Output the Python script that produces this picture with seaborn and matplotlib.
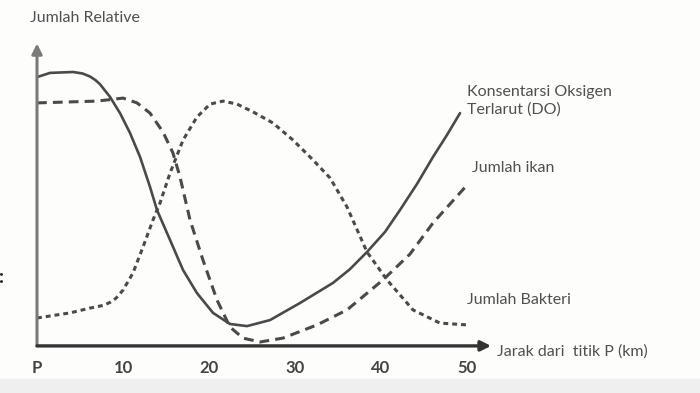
import matplotlib
matplotlib.use("Agg")
import matplotlib.pyplot as plt
import seaborn as sns
import pandas as pd

sns.set_theme(style="white")
plt.rcParams['font.family'] = ['Lato', 'DejaVu Sans']

# --- data (distance from P in km, relative amount) ---
do_km = [0.0, 1.51, 4.19, 5.3, 6.16, 6.8, 7.33, 8.49, 9.65, 10.81, 11.98, 13.14, 13.95,
         15.47, 16.98, 18.60, 20.47, 22.44, 24.42, 27.09, 30.58, 34.42, 36.40, 38.37,
         40.47, 42.21, 44.19, 46.05, 47.67, 49.19]
do_val = [89.3, 90.7, 91.0, 90.5, 89.5, 88.3, 86.9, 82.7, 77.3, 70.7, 62.7, 52.7, 45.0,
          35.0, 25.0, 17.3, 10.7, 7.0, 6.3, 8.3, 14.0, 20.7, 25.3, 31.0,
          37.7, 45.0, 53.7, 62.7, 70.0, 77.3]

ikan_km = [0.0, 6.98, 10.0, 11.63, 13.14, 14.65, 15.81, 16.63, 17.79, 19.30, 20.93,
           22.44, 23.95, 25.93, 28.60, 32.56, 36.05, 40.23, 43.37, 46.05, 50.0]
ikan_val = [80.7, 81.3, 82.3, 80.7, 77.3, 71.0, 64.0, 56.0, 41.7, 28.3, 15.0,
            6.0, 2.3, 1.0, 2.3, 6.7, 11.7, 21.7, 30.3, 40.7, 53.3]

bakteri_km = [0.0, 3.84, 6.16, 7.7, 8.49, 9.19, 10.0, 11.16, 12.33, 13.49, 14.30, 15.47,
              16.98, 18.60, 20.12, 21.63, 23.26, 25.12, 27.44, 29.77, 32.09, 34.07,
              36.05, 38.37, 40.70, 43.72, 46.86, 50.0]
bakteri_val = [9.0, 10.7, 12.3, 13.2, 14.2, 15.6, 18.3, 24.0, 32.7, 41.7, 47.3, 57.3,
               68.3, 76.0, 80.3, 81.3, 80.3, 77.7, 74.0, 68.3, 61.7, 55.7,
               46.0, 31.0, 21.7, 11.7, 7.3, 6.7]

tick_pos = [0, 10, 20, 30, 40, 50]
tick_labels = ["P", "10", "20", "30", "40", "50"]

series_labels = {
    "do": "Konsentarsi Oksigen\nTerlarut (DO)",
    "ikan": "Jumlah ikan",
    "bakteri": "Jumlah Bakteri",
}

# --- figure ---
fig = plt.figure(figsize=(7, 3.93), dpi=100)
fig.patch.set_facecolor("#fdfdfb")
ax = fig.add_axes([0, 0, 1, 1])
ax.set_facecolor("#fdfdfb")
ax.set_xlim(-37 / 8.6, 663 / 8.6)
ax.set_ylim(-16, 115)
ax.axis("off")

line_col = "#4a4a4a"
text_col = "#505050"

df_do = pd.DataFrame({"km": do_km, "val": do_val})
df_ikan = pd.DataFrame({"km": ikan_km, "val": ikan_val})
df_bak = pd.DataFrame({"km": bakteri_km, "val": bakteri_val})

sns.lineplot(data=df_do, x="km", y="val", ax=ax, color=line_col, linewidth=1.9,
             sort=False, estimator=None)
sns.lineplot(data=df_ikan, x="km", y="val", ax=ax, color=line_col, linewidth=2.2,
             sort=False, estimator=None)
ax.lines[-1].set_dashes([3.2, 2.0])
sns.lineplot(data=df_bak, x="km", y="val", ax=ax, color=line_col, linewidth=2.2,
             sort=False, estimator=None)
ax.lines[-1].set_dashes([1.6, 1.3])
for ln in ax.lines:
    ln.set_solid_capstyle("round")
    ln.set_solid_joinstyle("round")
    ln.set_dash_capstyle("butt")
    ln.set_dash_joinstyle("round")

# axes with arrows
ax.annotate("", xy=(0, 100.5), xytext=(0, -0.3),
            arrowprops=dict(arrowstyle="-|>,head_width=0.25,head_length=0.5",
                            color="#7a7a7a", lw=2.2, shrinkA=0, shrinkB=0))
ax.annotate("", xy=(52.8, -0.3), xytext=(0, -0.3),
            arrowprops=dict(arrowstyle="-|>,head_width=0.25,head_length=0.5",
                            color="#333333", lw=2.4, shrinkA=0, shrinkB=0))

# tick labels
for p, lab in zip(tick_pos, tick_labels):
    ax.text(p, -7.7, lab, ha="center", va="center", fontsize=12,
            color="#444444", fontweight="bold", fontstretch="condensed")

# texts
fs = 11.5
ax.text(-0.8, 109, "Jumlah Relative", ha="left", va="center", fontsize=fs,
        color=text_col)
ax.text(50.0, 81.5, series_labels["do"], ha="left", va="center", fontsize=fs,
        color=text_col, linespacing=1.3)
ax.text(50.6, 59, series_labels["ikan"], ha="left", va="center", fontsize=fs,
        color=text_col)
ax.text(50.0, 15, series_labels["bakteri"], ha="left", va="center", fontsize=fs,
        color=text_col)
ax.text(53.5, -2.3, "Jarak dari  titik P (km)", ha="left", va="center", fontsize=fs,
        color=text_col)
ax.text(-4.1, 22.5, ":", ha="center", va="center", fontsize=14, color="#222222",
        fontweight="bold")

# faint grey strip at bottom of the screenshot
ax.axhspan(-16, -11.2, color="#efefef", zorder=0)

fig.savefig("out.png", dpi=100, facecolor=fig.get_facecolor())
